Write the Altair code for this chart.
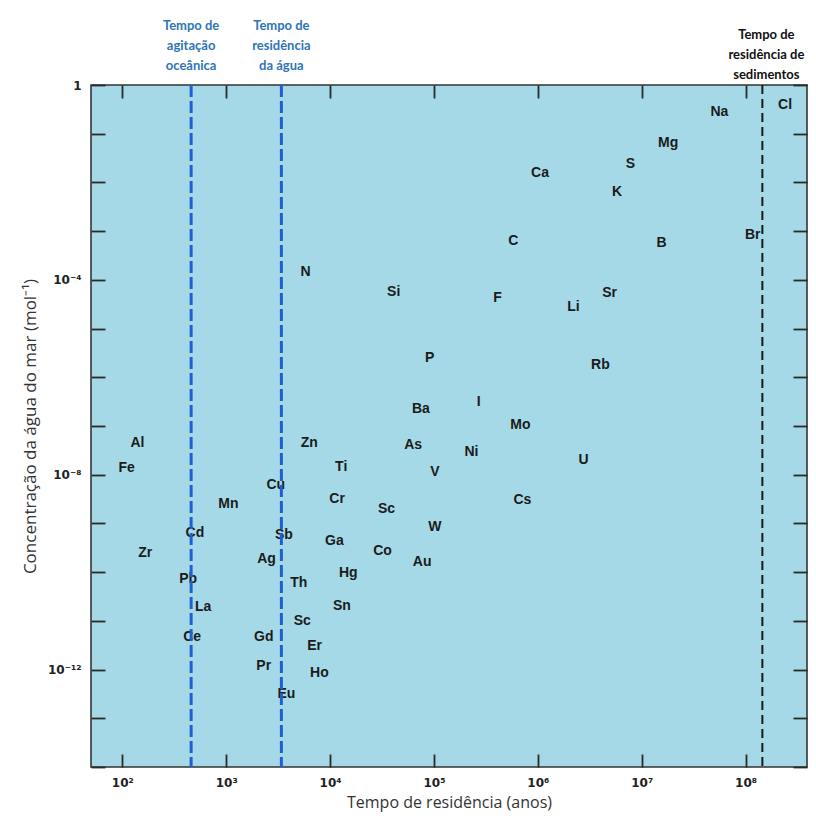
import altair as alt
import pandas as pd

# ---- data ----
elements = ["Cl", "Na", "Mg", "S", "Ca", "K", "C", "B", "Br", "N", "Si", "F", "Li", "Sr",
            "P", "Rb", "Ba", "I", "Mo", "Al", "Fe", "Zn", "As", "Ni", "Ti", "V", "U",
            "Cu", "Mn", "Cr", "Sc", "Cs", "W", "Cd", "Sb", "Ga", "Zr", "Co", "Ag", "Au",
            "Hg", "Pb", "Th", "La", "Sn", "Sc", "Ce", "Gd", "Er", "Pr", "Ho", "Eu"]
residence_years = [2.4e8, 5.6e7, 1.8e7, 7.8e6, 1.05e6, 5.8e6, 5.8e5, 1.55e7, 1.17e8, 5.8e3,
                   4.1e4, 4.1e5, 2.2e6, 4.9e6, 9.1e4, 4.0e6, 7.5e4, 2.7e5, 6.8e5, 1.4e2,
                   1.1e2, 6.3e3, 6.3e4, 2.3e5, 1.28e4, 1.02e5, 2.75e6, 3.0e3, 1.05e3, 1.17e4,
                   3.5e4, 7.1e5, 1.02e5, 5.0e2, 3.6e3, 1.1e4, 1.66e2, 3.2e4, 2.45e3, 7.7e4,
                   1.5e4, 4.3e2, 5.0e3, 6.0e2, 1.3e4, 5.4e3, 4.7e2, 2.3e3, 7.1e3, 2.3e3,
                   7.9e3, 3.8e3]
concentration = [0.39, 0.28, 6.5e-2, 2.4e-2, 1.55e-2, 6.3e-3, 6.3e-4, 5.8e-4, 8.3e-4, 1.45e-4,
                 5.6e-5, 4.3e-5, 2.75e-5, 5.4e-5, 2.5e-6, 1.8e-6, 2.2e-7, 3.1e-7, 1.05e-7, 4.5e-8,
                 1.4e-8, 4.5e-8, 4.1e-8, 2.9e-8, 1.45e-8, 1.12e-8, 2.0e-8, 6.2e-9, 2.5e-9, 3.2e-9,
                 2.0e-9, 3.0e-9, 8.3e-10, 6.3e-10, 5.8e-10, 4.4e-10, 2.5e-10, 2.7e-10, 1.9e-10, 1.6e-10,
                 9.5e-11, 7.2e-11, 5.9e-11, 1.9e-11, 2.0e-11, 1.0e-11, 4.7e-12, 4.7e-12, 3.0e-12, 1.2e-12,
                 8.5e-13, 3.1e-13]

blue_line_years = [460, 3400]
blue_line_labels = ["Tempo de\nagitação\noceânica", "Tempo de\nresidência\nda água"]
sediment_line_years = [1.45e8]
sediment_line_labels = ["Tempo de\nresidência de\nsedimentos"]

x_tick_values = [1e2, 1e3, 1e4, 1e5, 1e6, 1e7, 1e8]
y_tick_values = [1e0, 1e-1, 1e-2, 1e-3, 1e-4, 1e-5, 1e-6, 1e-7, 1e-8, 1e-9, 1e-10,
                 1e-11, 1e-12, 1e-13, 1e-14]

df = pd.DataFrame({"el": elements, "t": residence_years, "c": concentration})
blue_df = pd.DataFrame({"t": blue_line_years, "lab": blue_line_labels})
sed_df = pd.DataFrame({"t": sediment_line_years, "lab": sediment_line_labels})

xscale = alt.Scale(type="log", domain=[50, 3.9e8], nice=False)
yscale = alt.Scale(type="log", domain=[1e-14, 1], nice=False)

x_label_expr = ("['10²','10³','10⁴','10⁵','10⁶','10⁷','10⁸']"
                "[round(log(datum.value)/LN10) - 2]")
y_label_expr = ("round(log(datum.value)/LN10) == 0 ? '1' : "
                "round(log(datum.value)/LN10) == -4 ? '10⁻⁴' : "
                "round(log(datum.value)/LN10) == -8 ? '10⁻⁸' : "
                "round(log(datum.value)/LN10) == -12 ? '10⁻¹²' : ''")

TICK = "#2a2a2a"
LABFONT = "Liberation Sans"
TICKFONT = "DejaVu Sans"

x_bottom = alt.Axis(orient="bottom", values=x_tick_values, labelExpr=x_label_expr,
                    offset=-13, tickSize=13, tickWidth=1.8, tickColor=TICK,
                    domain=False, grid=False, labelPadding=10, labelOverlap=False,
                    labelFlush=False, labelFont=TICKFONT, labelFontSize=12,
                    labelFontWeight="bold", labelColor="#222",
                    title="Tempo de residência (anos)", titleFont="Open Sans",
                    titleFontSize=16, titleFontWeight="normal", titleColor="#333",
                    titlePadding=6)
y_left = alt.Axis(orient="left", values=y_tick_values, labelExpr=y_label_expr,
                  offset=-14, tickSize=14, tickWidth=1.8, tickColor=TICK,
                  domain=False, grid=False, labelPadding=10, labelOverlap=False,
                  labelFlush=False, labelFont=TICKFONT, labelFontSize=12,
                  labelFontWeight="bold", labelColor="#222",
                  title="Concentração da água do mar (mol⁻¹)", titleFont="Open Sans",
                  titleFontSize=17, titleFontWeight="normal", titleColor="#333",
                  titlePadding=8)
x_top = alt.Axis(orient="top", values=x_tick_values, labels=False, offset=-13,
                 tickSize=13, tickWidth=1.8, tickColor=TICK, domain=False, grid=False,
                 title=None)
y_right = alt.Axis(orient="right", values=y_tick_values, labels=False, offset=-14,
                   tickSize=14, tickWidth=1.8, tickColor=TICK, domain=False, grid=False,
                   title=None)

labels = alt.Chart(df).mark_text(
    font=LABFONT, fontSize=14, fontWeight="bold", color="#1b1b1b",
    align="center", baseline="middle"
).encode(
    x=alt.X("t:Q", scale=xscale, axis=x_bottom),
    y=alt.Y("c:Q", scale=yscale, axis=y_left),
    text="el:N",
)

frame_axes = alt.Chart(df).mark_point(opacity=0).encode(
    x=alt.X("t:Q", scale=xscale, axis=x_top),
    y=alt.Y("c:Q", scale=yscale, axis=y_right),
)

blue_lines = alt.Chart(blue_df).mark_rule(
    color="#1f5fd0", strokeWidth=3, strokeDash=[12, 4]
).encode(x=alt.X("t:Q", scale=xscale, axis=None))

sed_line = alt.Chart(sed_df).mark_rule(
    color="#1a1a1a", strokeWidth=2, strokeDash=[9, 5]
).encode(x=alt.X("t:Q", scale=xscale, axis=None))

blue_text = alt.Chart(blue_df).mark_text(
    font="Lato", fontSize=13, fontWeight="bold", color="#2e75b6",
    align="center", baseline="alphabetic", lineBreak="\n", lineHeight=20
).encode(x=alt.X("t:Q", scale=xscale, axis=None), y=alt.value(-55), text="lab:N")

sed_text = alt.Chart(sed_df).mark_text(
    font="Lato", fontSize=13, fontWeight="bold", color="#111111",
    align="center", baseline="alphabetic", lineBreak="\n", lineHeight=20, dx=4
).encode(x=alt.X("t:Q", scale=xscale, axis=None), y=alt.value(-46), text="lab:N")

chart = alt.layer(
    labels, frame_axes, blue_lines, sed_line, blue_text, sed_text
).resolve_axis(x="independent", y="independent").properties(
    width=716, height=682,
    autosize=alt.AutoSizeParams(type="none"),
    padding={"left": 91, "top": 85, "right": 9, "bottom": 58},
    background="white",
).configure_view(
    fill="#a5d9e7", stroke="#333333", strokeWidth=1.6
)

chart.save("out.html", embed_options={"renderer": "svg", "actions": False})
